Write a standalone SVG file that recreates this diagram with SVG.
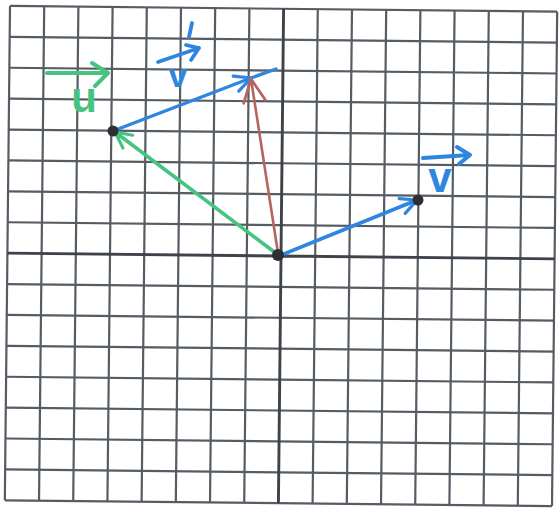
<svg xmlns="http://www.w3.org/2000/svg" width="559" height="515" viewBox="0 0 559 515">
<style>
.g{stroke:#565c64;stroke-width:2.2;fill:none}
.ax{stroke:#3e424a;stroke-width:2.9;fill:none}
.vec{fill:none;stroke-linecap:round;stroke-linejoin:round}
.green{stroke:#46c47f}
.blue{stroke:#2f86e0}
.red{stroke:#b3655e}
.dot{fill:#2e2f33}
.lbl{font-family:"Liberation Sans",Arial,sans-serif;font-weight:bold}
</style>
<defs>
<marker id="ah-green" viewBox="0 0 20 20" refX="18" refY="10" markerWidth="20" markerHeight="20" orient="auto" markerUnits="userSpaceOnUse"><path d="M2,2 L18,10 L2,18" fill="none" stroke="#46c47f" stroke-width="3.2" stroke-linecap="round"/></marker>
<marker id="ah-blue" viewBox="0 0 20 20" refX="18" refY="10" markerWidth="20" markerHeight="20" orient="auto" markerUnits="userSpaceOnUse"><path d="M2,2 L18,10 L2,18" fill="none" stroke="#2f86e0" stroke-width="3.2" stroke-linecap="round"/></marker>
<marker id="ah-red" viewBox="0 0 28 28" refX="26" refY="14" markerWidth="28" markerHeight="28" orient="auto" markerUnits="userSpaceOnUse"><path d="M3,3 L26,14 L3,25" fill="none" stroke="#b3655e" stroke-width="2.8" stroke-linecap="round"/></marker>
</defs>
<rect width="559" height="515" fill="#ffffff"/>
<g id="grid" transform="rotate(0.6 281 256)">
<path class="g" d="M7.4,8.8V503.2M41.6,8.8V503.2M75.8,8.8V503.2M110,8.8V503.2M144.2,8.8V503.2M178.4,8.8V503.2M212.6,8.8V503.2M246.8,8.8V503.2M315.2,8.8V503.2M349.4,8.8V503.2M383.6,8.8V503.2M417.8,8.8V503.2M452,8.8V503.2M486.2,8.8V503.2M520.4,8.8V503.2M554.6,8.8V503.2"/>
<path class="g" d="M7.4,8.8H554.6M7.4,39.7H554.6M7.4,70.6H554.6M7.4,101.5H554.6M7.4,132.4H554.6M7.4,163.3H554.6M7.4,194.2H554.6M7.4,225.1H554.6M7.4,286.9H554.6M7.4,317.8H554.6M7.4,348.7H554.6M7.4,379.6H554.6M7.4,410.5H554.6M7.4,441.4H554.6M7.4,472.3H554.6M7.4,503.2H554.6"/>
<path class="ax" d="M281,8.8V503.2M7.4,256H554.6"/>
</g>
<g id="connectors">
<path id="vec-u" class="vec green" stroke-width="3.6" d="M277,254 L115,132" marker-end="url(#ah-green)"/>
<path id="vec-v" class="vec blue" stroke-width="3.6" d="M279,256 L417,200" marker-end="url(#ah-blue)"/>
<path id="vec-v-shift" class="vec blue" stroke-width="3.4" d="M113,131 L251,78 L276,69" marker-mid="url(#ah-blue)"/>
<path id="vec-sum" class="vec red" stroke-width="2.6" d="M278,253 L251,79" marker-end="url(#ah-red)"/>
</g>
<g id="node-origin"><circle class="dot" cx="278" cy="255" r="6"/></g>
<g id="node-u"><circle class="dot" cx="113" cy="131" r="5.5"/></g>
<g id="node-v"><circle class="dot" cx="418" cy="200" r="5.5"/></g>
<g id="label-u">
<path class="vec green" stroke-width="4" d="M47,73 L108,73 M92,63 L108,73 L95,86"/>
<text class="lbl" x="84" y="112" font-size="42" text-anchor="middle" fill="#46c47f">u</text>
</g>
<g id="label-v">
<path class="vec blue" stroke-width="4" d="M423,158 L470,155 M457,147 L470,155 L459,164"/>
<text class="lbl" x="440" y="192" font-size="42" text-anchor="middle" fill="#2f86e0">v</text>
</g>
<g id="label-v-shift">
<path class="vec blue" stroke-width="3.8" d="M158,62 L199,48 M186,45 L199,48 L191,60 M192,23 L189,37"/>
<text class="lbl" x="178" y="87" font-size="34" text-anchor="middle" fill="#2f86e0">v</text>
</g>
</svg>
